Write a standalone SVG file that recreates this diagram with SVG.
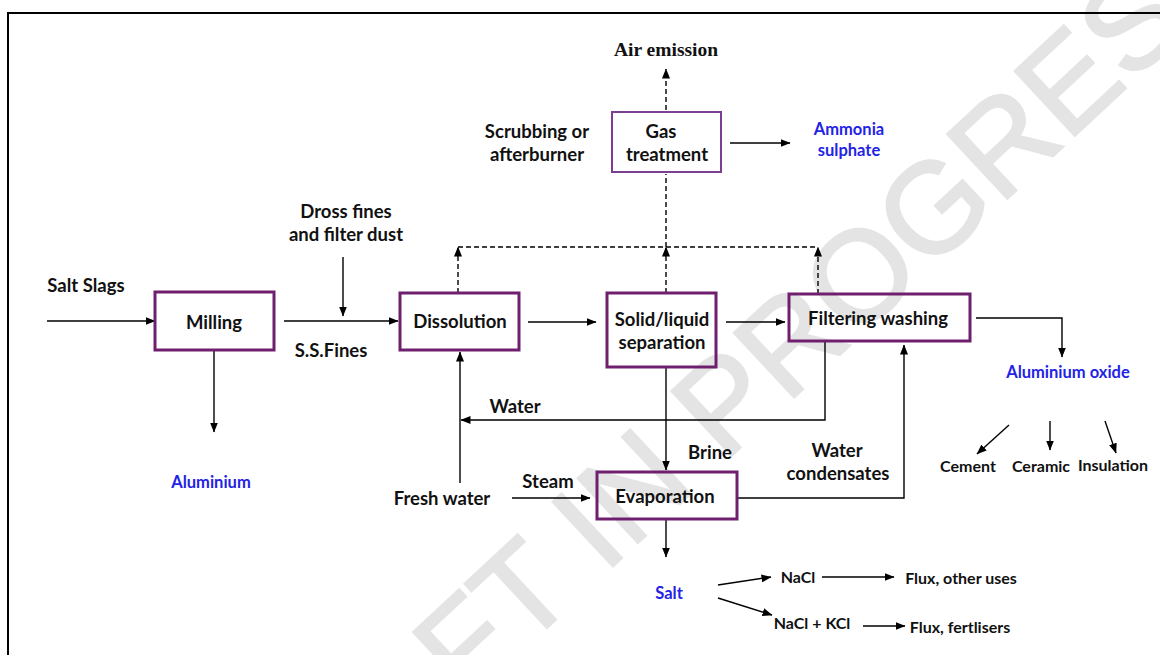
<svg xmlns="http://www.w3.org/2000/svg" width="1160" height="655" viewBox="0 0 1160 655">
<defs>
<marker id="ah" markerWidth="10" markerHeight="8" refX="9.5" refY="4" orient="auto" markerUnits="userSpaceOnUse"><path d="M0,0 L10,4 L0,8 z" fill="#000"/></marker>
</defs>
<style>
.box{fill:none;stroke:#6e1f6e;stroke-width:3}
.gas{fill:none;stroke:#7a3f8e;stroke-width:2}
.t{font-family:Lato,"Liberation Sans",sans-serif;font-weight:700;font-size:18.5px;fill:#111;text-anchor:middle}
.s{font-size:16px}
.b{fill:#2323e6;font-size:16.5px}
.ln{fill:none;stroke:#000;stroke-width:1.4}
.ar{marker-end:url(#ah)}
.d{stroke-dasharray:5,3}
.wm{font-family:"Liberation Sans",sans-serif;font-size:128px;fill:#e4e4e4;stroke:#e4e4e4;stroke-width:2.5}
</style>
<rect width="1160" height="655" fill="#fff"/>
<g id="watermark"><text class="wm" transform="translate(268,888) rotate(-43)">DRAFT IN PROGRESS</text></g>
<rect x="8" y="13" width="1200" height="700" fill="none" stroke="#000" stroke-width="2"/>

<g id="connectors">
<path class="ln ar" d="M47,321 H155"/>
<path class="ln ar" d="M284,321 H398"/>
<path class="ln ar" d="M343,257 V316"/>
<path class="ln ar" d="M214,350 V432"/>
<path class="ln ar" d="M528,322 H596"/>
<path class="ln ar" d="M726,322 H785"/>
<path class="ln ar d" d="M458,293 V247"/>
<path class="ln ar d" d="M666,293 V247"/>
<path class="ln ar d" d="M818,294 V247"/>
<path class="ln d" d="M458,247 H818"/>
<path class="ln d" d="M666,247 V174"/>
<path class="ln ar d" d="M666,110 V69"/>
<path class="ln ar" d="M730,143 H790"/>
<path class="ln ar" d="M666,367 V470"/>
<path class="ln ar" d="M825,341 V420 H461"/>
<path class="ln ar" d="M460,483 V352"/>
<path class="ln ar" d="M512,498 H590"/>
<path class="ln ar" d="M737,498 H904 V345"/>
<path class="ln ar" d="M976,318 H1062 V357"/>
<path class="ln ar" d="M1009,425 L977,454"/>
<path class="ln ar" d="M1050,421 V450"/>
<path class="ln ar" d="M1105,421 L1116,453"/>
<path class="ln ar" d="M666,519 V557"/>
<path class="ln ar" d="M718,585 L771,577"/>
<path class="ln ar" d="M718,598 L772,615"/>
<path class="ln ar" d="M822,577 H894"/>
<path class="ln ar" d="M863,626 H905"/>
</g>

<g id="milling"><rect class="box" x="155" y="292" width="119" height="58"/><text class="t" x="214" y="328.5">Milling</text></g>
<g id="dissolution"><rect class="box" x="400" y="293" width="119" height="57"/><text class="t" x="460" y="327.5">Dissolution</text></g>
<g id="separation"><rect class="box" x="607" y="293" width="109" height="74"/><text class="t" x="662" y="325.5">Solid/liquid</text><text class="t" x="662" y="348.5">separation</text></g>
<g id="filtering"><rect class="box" x="789" y="294" width="181" height="47"/><text class="t" x="878" y="324.5">Filtering washing</text></g>
<g id="gas"><rect class="gas" x="612" y="112" width="109" height="60"/><text class="t" x="661" y="137.5">Gas</text><text class="t" x="667" y="160.5">treatment</text></g>
<g id="evaporation"><rect class="box" x="597" y="472" width="140" height="47"/><text class="t" x="665" y="502.5">Evaporation</text></g>

<g id="labels">
<text class="t" x="86" y="291.5">Salt Slags</text>
<text class="t" x="346" y="217.5">Dross fines</text>
<text class="t" x="346" y="240.5">and filter dust</text>
<text class="t" x="331" y="356.5">S.S.Fines</text>
<text class="t" x="537" y="137.5">Scrubbing or</text>
<text class="t" x="537" y="160.5">afterburner</text>
<text x="666" y="55.5" style="font-family:'Liberation Serif',serif;font-weight:700;font-size:19.5px;fill:#111;text-anchor:middle">Air emission</text>
<text class="t b" x="849" y="135">Ammonia</text>
<text class="t b" x="849" y="156">sulphate</text>
<text class="t b" x="211" y="488">Aluminium</text>
<text class="t b" x="1068" y="378">Aluminium oxide</text>
<text class="t" x="515" y="412.5">Water</text>
<text class="t" x="710" y="458.5">Brine</text>
<text class="t" x="837" y="456.5">Water</text>
<text class="t" x="838" y="479.5">condensates</text>
<text class="t" x="442" y="504.5">Fresh water</text>
<text class="t" x="548" y="487.5">Steam</text>
<text class="t b" x="669" y="599">Salt</text>
<text class="t s" x="968" y="472">Cement</text>
<text class="t s" x="1041" y="472">Ceramic</text>
<text class="t s" x="1113" y="471">Insulation</text>
<text class="t s" x="798" y="583">NaCl</text>
<text class="t s" x="961" y="584">Flux, other uses</text>
<text class="t s" x="812" y="629">NaCl + KCl</text>
<text class="t s" x="960" y="633">Flux, fertlisers</text>
</g>
</svg>
